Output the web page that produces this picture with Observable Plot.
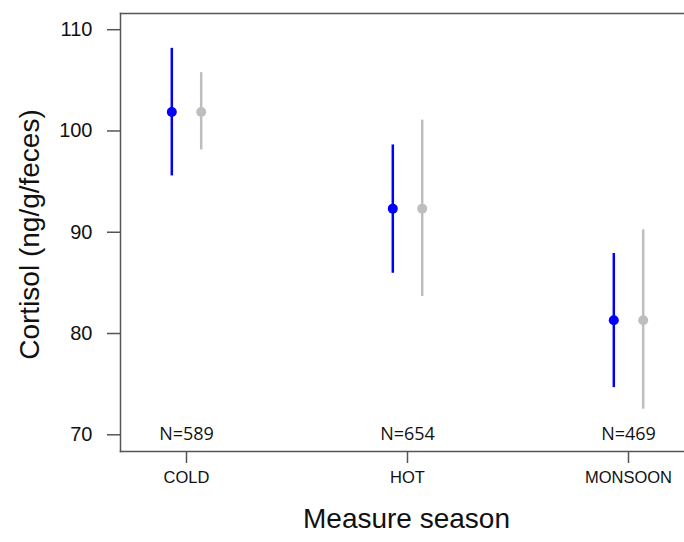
<!DOCTYPE html>
<html>
<head>
<meta charset="utf-8">
<script src="https://cdn.jsdelivr.net/npm/d3@7"></script>
<script src="https://cdn.jsdelivr.net/npm/@observablehq/plot@0.6"></script>
<style>
  html, body { margin: 0; padding: 0; background: #fff; }
  #chart { width: 684px; height: 542px; }
</style>
</head>
<body>
<div id="chart"></div>
<script>
const seasons = ["COLD", "HOT", "MONSOON"];
const blueMean = [101.88, 92.33, 81.31];
const blueLow = [95.56, 85.95, 74.66];
const blueHigh = [108.16, 98.62, 87.9];
const grayMean = [101.88, 92.33, 81.31];
const grayLow = [98.13, 83.65, 72.53];
const grayHigh = [105.76, 101.07, 90.23];
const nLabels = ["N=589", "N=654", "N=469"];
const nLabelY = [70, 70, 70];
const yTicks = [70, 80, 90, 100, 110];
const yDomain = [68.35, 111.6];

const blueRows = seasons.map((s, i) => ({season: s, mean: blueMean[i], low: blueLow[i], high: blueHigh[i]}));
const grayRows = seasons.map((s, i) => ({season: s, mean: grayMean[i], low: grayLow[i], high: grayHigh[i]}));
const nRows = seasons.map((s, i) => ({season: s, label: nLabels[i], y: nLabelY[i]}));

const blue = "#0000ff";
const gray = "#bebebe";
const axisColor = "#555";
const off = 14.7;

const chart = Plot.plot({
  width: 684,
  height: 542,
  marginLeft: 120,
  marginRight: 0,
  marginTop: 13,
  marginBottom: 91,
  style: {fontFamily: "'Liberation Sans', Arial, sans-serif", background: "#fff", color: "#222"},
  x: {type: "point", domain: seasons, range: [185.4, 627.9], padding: 0},
  y: {domain: yDomain},
  marks: [
    Plot.frame({anchor: "left", stroke: axisColor, strokeWidth: 1.5}),
    Plot.frame({anchor: "top", stroke: axisColor, strokeWidth: 1.5}),
    Plot.frame({anchor: "bottom", stroke: axisColor, strokeWidth: 1.5}),
    Plot.axisY({ticks: yTicks, tickSize: 13, tickPadding: 15, fontSize: 20, stroke: axisColor, strokeWidth: 1.5, label: null, fill: "#111"}),
    Plot.axisX({tickSize: 12, tickPadding: 8, fontSize: 16.5, stroke: axisColor, strokeWidth: 1.5, label: null, fill: "#111"}),
    Plot.ruleX(grayRows, {x: "season", y1: "low", y2: "high", stroke: gray, strokeWidth: 2.5, dx: off}),
    Plot.dot(grayRows, {x: "season", y: "mean", r: 5, fill: gray, dx: off}),
    Plot.ruleX(blueRows, {x: "season", y1: "low", y2: "high", stroke: blue, strokeWidth: 2.5, dx: -off}),
    Plot.dot(blueRows, {x: "season", y: "mean", r: 5, fill: blue, dx: -off}),
    Plot.text(nRows, {x: "season", y: "y", text: "label", fontSize: 18, fontFamily: "'Open Sans', sans-serif", fill: "#111", dy: -1}),
    Plot.text(["Measure season"], {frameAnchor: "bottom", dy: 76, dx: 4, fontSize: 28, fill: "#111"}),
    Plot.text(["Cortisol (ng/g/feces)"], {frameAnchor: "left", textAnchor: "middle", rotate: -90, dx: -90, dy: 2, fontSize: 28, fill: "#111"})
  ]
});
document.getElementById("chart").appendChild(chart);
</script>
</body>
</html>
